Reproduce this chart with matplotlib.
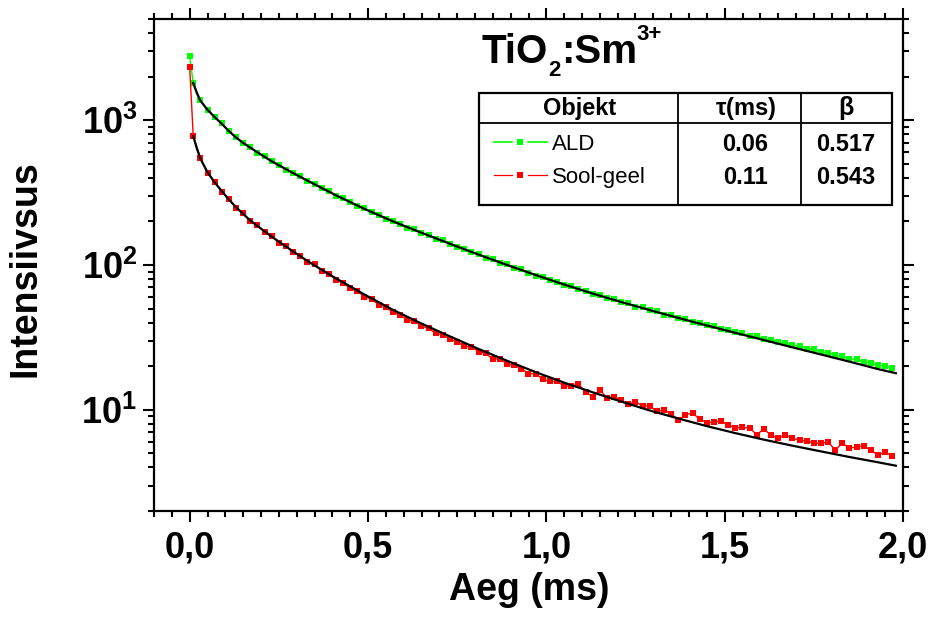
import numpy as np
import matplotlib.pyplot as plt
from matplotlib.ticker import MultipleLocator, FuncFormatter, LogLocator, NullFormatter
from matplotlib.lines import Line2D
from matplotlib.patches import Rectangle

plt.rcParams['font.family'] = ['Liberation Sans', 'DejaVu Sans']
plt.rcParams['mathtext.fontset'] = 'custom'
plt.rcParams['mathtext.rm'] = 'Liberation Sans'
plt.rcParams['mathtext.bf'] = 'Liberation Sans:bold'
plt.rcParams['mathtext.it'] = 'Liberation Sans:italic'

# decay data (time in ms, intensity in counts)
t_data = np.concatenate(([0.0], np.arange(0.01, 1.98, 0.02)))

ald = [2760, 1810, 1380, 1172, 1057, 951, 838, 764, 697, 652,
       597, 562, 520, 492, 456, 434, 410, 381, 364, 340,
       325, 301, 289, 272, 255, 247, 232, 223, 209, 202,
       192, 181, 177, 166, 161, 152, 148, 140, 133, 130,
       122, 119, 112, 110, 104, 101, 95.1, 93.1, 88.7, 84.5,
       83.2, 78.7, 76.7, 72.6, 71.6, 67.8, 66.5, 63.5, 61.9, 58.7,
       58.1, 55.2, 54.3, 51.6, 51.1, 48.8, 47.9, 45.4, 45.1, 43.1,
       42.4, 40.3, 39.9, 38.4, 37.8, 36.1, 35.6, 34.3, 33.7, 32.4,
       32.1, 30.8, 30.5, 29.2, 29.0, 27.9, 27.5, 26.5, 26.1, 25.1,
       24.7, 23.8, 23.4, 22.5, 22.3, 21.4, 21.1, 20.3, 20.1, 19.3]

soolgeel = [2330, 776, 550, 433, 377, 321, 286, 249, 228, 202,
            188, 169, 159, 143, 135, 122, 116, 105, 101, 91.0,
            87.3, 79.1, 75.3, 68.9, 65.9, 60.5, 57.9, 53.2, 51.3, 47.0,
            45.4, 41.7, 40.9, 37.8, 36.5, 33.7, 33.0, 30.6, 29.6, 27.4,
            27.2, 25.2, 24.5, 22.4, 22.6, 20.6, 20.3, 19.2, 17.8, 17.7,
            16.3, 15.7, 15.7, 14.6, 14.6, 15.0, 13.3, 12.3, 13.8, 12.0,
            12.3, 11.6, 10.9, 11.4, 10.6, 10.6, 9.75, 10.0, 9.40, 8.51,
            9.25, 9.48, 8.63, 8.15, 8.22, 8.36, 7.87, 7.50, 7.57, 7.48,
            6.73, 7.38, 6.65, 6.35, 6.70, 6.37, 6.14, 6.08, 5.89, 5.87,
            5.98, 5.28, 5.89, 5.42, 5.56, 5.62, 5.27, 4.86, 5.11, 4.78]

# fitted curves
t_fit = [0.01, 0.02, 0.03, 0.05, 0.07, 0.09, 0.11, 0.13, 0.15, 0.17, 0.19,
         0.23, 0.27, 0.31, 0.35, 0.41, 0.49, 0.57, 0.65, 0.73, 0.81, 0.89,
         0.97, 1.05, 1.13, 1.21, 1.29, 1.37, 1.45, 1.53, 1.61, 1.69, 1.77,
         1.85, 1.93, 1.98]
ald_fit = [1807, 1542, 1365, 1180, 1052, 944, 841, 759, 697, 646, 600,
           520, 459, 406, 361, 303, 244, 200, 167, 140, 118, 100,
           85.3, 73.3, 63.5, 55.5, 48.8, 43.1, 38.2, 34.0, 30.3, 27.0, 24.1,
           21.5, 19.1, 17.9]
soolgeel_fit = [776, 640, 543, 437, 372, 324, 283, 251, 225, 203, 186,
                157, 134, 115, 99.3, 80.9, 62.5, 49.0, 39.4, 32.1, 26.3, 21.8,
                18.2, 15.4, 13.2, 11.4, 9.89, 8.71, 7.71, 6.90, 6.22, 5.65, 5.16,
                4.72, 4.34, 4.11]

samples = ['ALD', 'Sool-geel']
tau = ['0.06', '0.11']
beta = ['0.517', '0.543']
colors = ['#00ff00', '#ff0000']

W, H = 934, 624
fig = plt.figure(figsize=(W / 100, H / 100), dpi=100)
ax = fig.add_axes([154 / W, 1 - 511 / H, (903 - 154) / W, (511 - 19) / H])


def fx(x):
    return x / W


def fy(y):
    return 1 - y / H


ax.plot(t_data, ald, '-s', color=colors[0], lw=1.0, ms=4.0, mew=0, zorder=2)
ax.plot(t_data, soolgeel, '-s', color=colors[1], lw=1.0, ms=4.0, mew=0, zorder=2)
ax.plot(t_fit, ald_fit, color='black', lw=1.6, zorder=3)
ax.plot(t_fit, soolgeel_fit, color='black', lw=1.6, zorder=3)

ax.set_yscale('log')
ax.set_xlim(-0.1, 2.0)
ax.set_ylim(2, 5000)

ax.xaxis.set_major_locator(MultipleLocator(0.5))
ax.xaxis.set_minor_locator(MultipleLocator(0.05))
ax.xaxis.set_major_formatter(FuncFormatter(lambda v, p: f'{v:.1f}'.replace('.', ',')))
ax.yaxis.set_major_locator(LogLocator(base=10, numticks=10))
ax.yaxis.set_minor_locator(LogLocator(base=10, subs=np.arange(2, 10), numticks=10))
ax.yaxis.set_minor_formatter(NullFormatter())
ax.yaxis.set_major_formatter(FuncFormatter(lambda v, p: r'$\mathbf{10^{%d}}$' % round(np.log10(v))))

for s in ax.spines.values():
    s.set_linewidth(1.6)
ax.tick_params(which='both', direction='out', top=True, right=True, width=1.5)
ax.tick_params(which='major', length=8)
ax.tick_params(which='minor', length=4)
ax.tick_params(axis='x', which='major', labelsize=26, pad=6)
ax.tick_params(axis='y', which='major', labelsize=26, pad=4)
for lab in ax.get_xticklabels():
    lab.set_fontweight('bold')

fig.text(fx(26), fy(269), 'Intensiivsus', rotation=90, ha='center', va='center',
         fontsize=27, fontweight='bold')
fig.text(fx(529), fy(590), 'Aeg (ms)', ha='center', va='center',
         fontsize=27, fontweight='bold')

# title TiO2:Sm3+ built from pieces: (text, size, baseline shift in px)
renderer = fig.canvas.get_renderer()
xpos = 482
for piece, size, dy in (('TiO', 29, 0), ('2', 16, 13), (':Sm', 29, 0), ('3+', 16, -23)):
    txt = fig.text(fx(xpos), fy(63 + dy), piece, ha='left', va='baseline',
                   fontsize=size, fontweight='bold')
    xpos += txt.get_window_extent(renderer).width

# table with fit parameters
x0, x1, x2, x3 = 479, 678, 801, 892
y0, y1, y2 = 93, 123, 205
fig.add_artist(Rectangle((fx(x0), fy(y2)), fx(x3) - fx(x0), fy(y0) - fy(y2),
                         transform=fig.transFigure, fill=False, lw=1.6, color='black'))
fig.add_artist(Line2D([fx(x0), fx(x3)], [fy(y1), fy(y1)], transform=fig.transFigure, lw=1.3, color='black'))
for xc in (x1, x2):
    fig.add_artist(Line2D([fx(xc), fx(xc)], [fy(y0), fy(y2)], transform=fig.transFigure, lw=1.3, color='black'))

fig.text(fx(580), fy(108), 'Objekt', ha='center', va='center', fontsize=17, fontweight='bold')
fig.text(fx(746), fy(108), r'$\mathbf{\tau}$(ms)', ha='center', va='center', fontsize=17, fontweight='bold')
fig.text(fx(846), fy(108), r'$\mathbf{\beta}$', ha='center', va='center', fontsize=18, fontweight='bold')

rows_y = [144, 177]
for name, tv, bv, c, ry, lw in zip(samples, tau, beta, colors, rows_y, [1.2, 0.9]):
    for xa, xb in ((494, 512), (528, 547)):
        fig.add_artist(Line2D([fx(xa), fx(xb)], [fy(ry - 2), fy(ry - 2)],
                              transform=fig.transFigure, lw=lw, color=c))
    fig.add_artist(Line2D([fx(520)], [fy(ry - 2)], transform=fig.transFigure,
                          marker='s', ms=4, mew=0, color=c))
    fig.text(fx(552), fy(ry), name, ha='left', va='center', fontsize=16)
    fig.text(fx(745), fy(ry), tv, ha='center', va='center', fontsize=17, fontweight='bold')
    fig.text(fx(846), fy(ry), bv, ha='center', va='center', fontsize=17, fontweight='bold')

fig.savefig('out.png', dpi=100)
